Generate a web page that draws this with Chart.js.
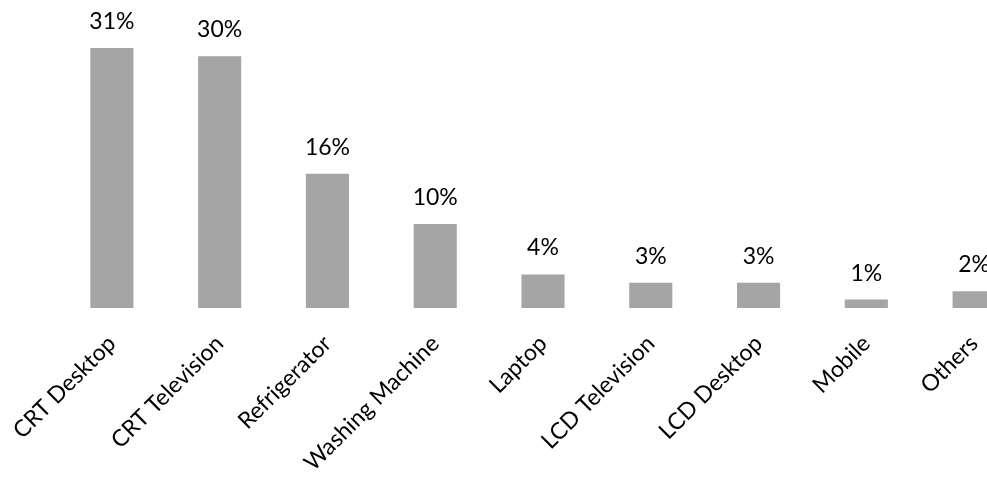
<!DOCTYPE html>
<html lang="en">
<head>
  <title>E-waste share</title>
  <style>
    body { margin: 0; overflow: hidden; background: #fff; }
  </style>
</head>
<body>
  <canvas id="myChart" width="1040" height="477"></canvas>
  <script src="https://cdn.jsdelivr.net/npm/chart.js"></script>
  <script>
    const categories = ['CRT Desktop', 'CRT Television', 'Refrigerator', 'Washing Machine', 'Laptop',
                        'LCD Television', 'LCD Desktop', 'Mobile', 'Others']
    const shares = [31, 30, 16, 10, 4, 3, 3, 1, 2]
    const valueLabels = ['31%', '30%', '16%', '10%', '4%', '3%', '3%', '1%', '2%']

    // percent labels above each bar
    const barLabels = {
      id: 'barLabels',
      afterDatasetsDraw(chart) {
        const ctx = chart.ctx
        const meta = chart.getDatasetMeta(0)
        ctx.save()
        ctx.font = '23px Lato'
        ctx.fillStyle = '#000'
        ctx.textAlign = 'center'
        ctx.textBaseline = 'alphabetic'
        meta.data.forEach((bar, i) => {
          ctx.fillText(valueLabels[i], bar.x, bar.y - 19)
        })
        ctx.restore()
      }
    }

    const ctx = document.getElementById('myChart').getContext('2d');
    const myChart = new Chart(ctx, {
      type: 'bar',
      data: {
        labels: categories,
        datasets: [{
          data: shares,
          backgroundColor: '#A5A5A5',
          borderWidth: 0,
          barPercentage: 0.4,
          categoryPercentage: 1
        }]
      },
      options: {
        responsive: false,
        animation: false,
        devicePixelRatio: 1,
        layout: { padding: { left: 58, right: 12, top: 6, bottom: 0 } },
        plugins: { legend: { display: false }, tooltip: { enabled: false } },
        scales: {
          x: {
            grid: { display: false, drawTicks: false },
            border: { display: false },
            ticks: {
              color: '#000',
              font: { family: 'Lato', size: 23 },
              minRotation: 45,
              maxRotation: 45,
              autoSkip: false,
              padding: 22
            },
            afterFit(scale) {
              scale.height = 169
              scale.paddingLeft = 0
              scale.paddingRight = 0
            }
          },
          y: {
            display: false,
            min: 0,
            max: 36
          }
        }
      },
      plugins: [barLabels]
    });
  </script>
</body>
</html>
